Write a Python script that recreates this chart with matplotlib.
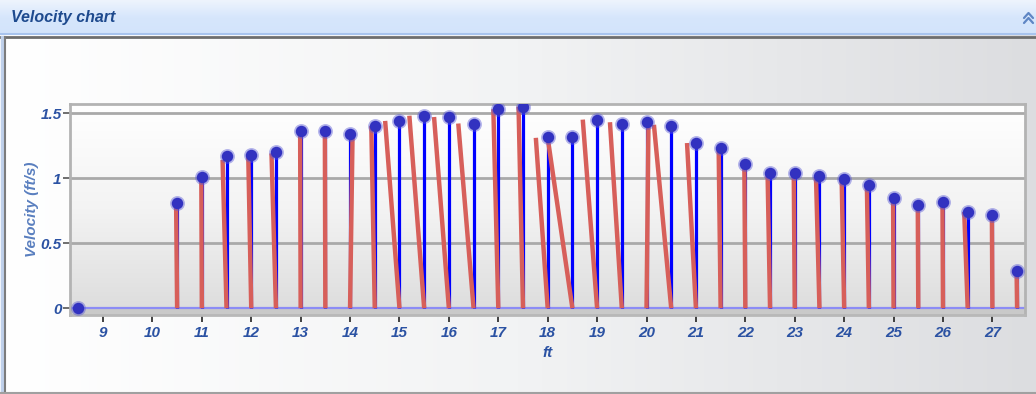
import numpy as np
import matplotlib
matplotlib.use("Agg")
import matplotlib.pyplot as plt
from matplotlib.colors import LinearSegmentedColormap
from matplotlib.collections import LineCollection
from matplotlib.lines import Line2D

# ---- data -------------------------------------------------------------
positions = [8.5, 10.5, 11, 11.5, 12, 12.5, 13, 13.5, 14, 14.5, 15, 15.5,
             16, 16.5, 17, 17.5, 18, 18.5, 19, 19.5, 20, 20.5, 21, 21.5,
             22, 22.5, 23, 23.5, 24, 24.5, 25, 25.5, 26, 26.5, 27, 27.5]
velocity = [0.00, 0.81, 1.01, 1.17, 1.18, 1.20, 1.36, 1.36, 1.34, 1.40, 1.44, 1.48,
            1.47, 1.42, 1.53, 1.55, 1.32, 1.32, 1.45, 1.42, 1.43, 1.40, 1.27, 1.23,
            1.11, 1.04, 1.04, 1.02, 0.99, 0.95, 0.85, 0.79, 0.82, 0.74, 0.72, 0.29]
# second trace: each segment rises from its station to this (x, value) point
trace_x = [8.5, 10.48, 10.99, 11.42, 11.94, 12.41, 12.99, 13.49, 14.05, 14.43, 14.71, 15.20,
           15.70, 16.19, 16.90, 17.41, 17.76, 18.00, 18.71, 19.26, 20.04, 20.15, 20.82, 21.46,
           21.98, 22.45, 22.98, 23.43, 23.95, 24.46, 24.99, 25.49, 25.99, 26.43, 26.99, 27.49]
trace_v = [0.00, 0.79, 1.00, 1.14, 1.17, 1.19, 1.35, 1.35, 1.32, 1.40, 1.44, 1.48,
           1.47, 1.42, 1.53, 1.55, 1.31, 1.31, 1.45, 1.43, 1.43, 1.41, 1.27, 1.23,
           1.09, 1.04, 1.03, 1.01, 0.98, 0.94, 0.85, 0.78, 0.81, 0.74, 0.71, 0.28]
x_ticks = list(range(9, 28))
y_ticks = [0, 0.5, 1, 1.5]
y_tick_labels = ["0", "0.5", "1", "1.5"]

W, H = 1036, 394
FONT = ["Liberation Sans", "DejaVu Sans"]
TICK_COLOR = "#2b52a3"
LABEL_COLOR = "#5a7fbf"

fig = plt.figure(figsize=(W / 100, H / 100), dpi=100)

# ---- panel background and frame ------------------------------------------
bg = fig.add_axes([0, 0, 1, 1], zorder=-10)
bg.set_xlim(0, W)
bg.set_ylim(H, 0)
bg.axis("off")
panel_cmap = LinearSegmentedColormap.from_list("panel", ["#ffffff", "#f2f3f4", "#dcdde0"])
bg.imshow(np.linspace(0, 1, 256)[None, :], cmap=panel_cmap, aspect="auto",
          extent=[0, W, H, 0], zorder=0)

# title bar
bar_cmap = LinearSegmentedColormap.from_list("bar", ["#eef4fd", "#d6e6fc", "#d3e4fb"])
bg.imshow(np.linspace(0, 1, 64)[:, None], cmap=bar_cmap, aspect="auto",
          extent=[0, W, 35, 0], zorder=1)
bg.add_line(Line2D([0, W], [34, 34], color="#a8c4ee", lw=1.5, zorder=2))
bg.add_line(Line2D([0, W], [37, 37], color="#6e6e6e", lw=2.0, zorder=2))
bg.add_line(Line2D([1.5, 1.5], [37, H], color="#bfd0ea", lw=2.5, zorder=2))
bg.add_line(Line2D([4.5, 4.5], [37, H], color="#7c7c7c", lw=1.5, zorder=2))
bg.add_line(Line2D([0, W], [392.5, 392.5], color="#a0a0a0", lw=1.5, zorder=2))
bg.text(11, 17.5, "Velocity chart", family=FONT, fontsize=11.5, weight="bold",
        style="italic", color="#1e4a8e", va="center", ha="left", zorder=3)
# collapse chevrons
for dy in (0, 5):
    bg.add_line(Line2D([1024, 1028.5, 1033], [18 + dy, 13 + dy, 18 + dy],
                       color="#5f86c4", lw=1.6, zorder=3, solid_capstyle="round"))

# ---- plot area ------------------------------------------------------------
ax = fig.add_axes([70 / W, 1 - 315 / H, 955 / W, 211 / H], zorder=1)
plot_cmap = LinearSegmentedColormap.from_list("plot", ["#ffffff", "#f3f3f3", "#dcdcdc"])
ax.imshow(np.linspace(0, 1, 256)[:, None], cmap=plot_cmap, aspect="auto",
          extent=[0, 1, 0, 1], transform=ax.transAxes, zorder=0)

xmin, xmax = 8.332, 27.66
ymin, ymax = -0.052, 1.57

# grid lines
for yv in y_ticks[1:]:
    ax.axhline(yv, color="#a9a9a9", lw=2.0, zorder=1)
# base band under the zero line
ax.axhspan(ymin, 0, color="#c9c9c9", zorder=1)
ax.axhline(0, color="#8c8cf5", lw=1.6, zorder=2)

# blue stems
ax.vlines(positions, 0, velocity, color="#0000ff", lw=2.3, zorder=3)

# red trace segments
segs = [[(x0, 0.0), (x1, v1)] for x0, x1, v1 in zip(positions, trace_x, trace_v)]
ax.add_collection(LineCollection(segs, colors="#d75f5a", linewidths=3.2,
                                 capstyle="butt", zorder=4))

# markers with soft rim
ax.scatter(positions, velocity, s=115, color="#5a5ad6", alpha=0.45, lw=0, zorder=5)
ax.scatter(positions, velocity, s=68, color="#3232c0", lw=0, zorder=6)

ax.set_xlim(xmin, xmax)
ax.set_ylim(ymin, ymax)

for side in ("top", "right", "left"):
    ax.spines[side].set_color("#b3b3b3")
    ax.spines[side].set_linewidth(2.0)
ax.spines["bottom"].set_color("#b8b8b8")
ax.spines["bottom"].set_linewidth(2.0)

ax.set_xticks(x_ticks)
ax.set_xticklabels([str(t) for t in x_ticks])
ax.set_yticks(y_ticks)
ax.set_yticklabels(y_tick_labels)
ax.tick_params(axis="x", direction="out", length=5, width=1.2, color="#222222", pad=3)
ax.tick_params(axis="y", direction="out", length=5, width=1.2, color="#555555", pad=1)
for lab in ax.get_xticklabels() + ax.get_yticklabels():
    lab.set_family(FONT)
    lab.set_fontsize(11)
    lab.set_weight("bold")
    lab.set_style("italic")
    lab.set_color(TICK_COLOR)

ax.set_xlabel("ft", family=FONT, fontsize=11, weight="bold", style="italic",
              color=TICK_COLOR, labelpad=4)
ax.set_ylabel("Velocity (ft/s)", family=FONT, fontsize=11, weight="bold",
              style="italic", color=LABEL_COLOR, labelpad=1)

fig.savefig("out.png", dpi=100)
